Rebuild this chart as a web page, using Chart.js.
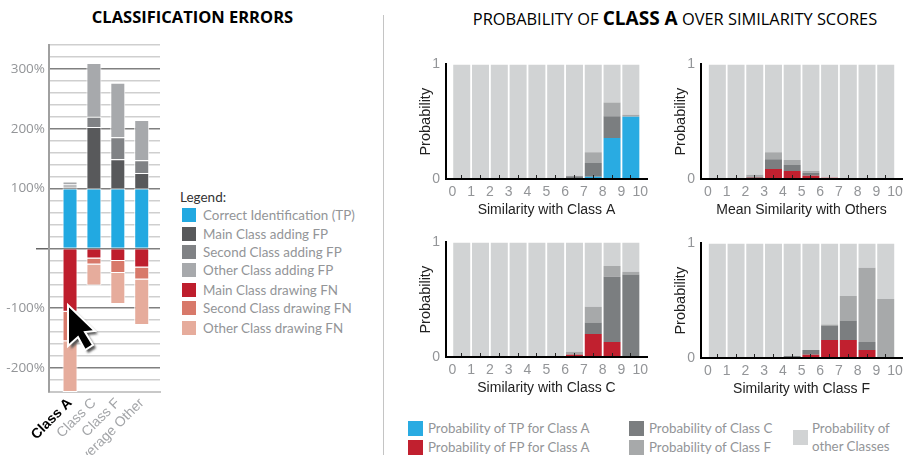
<!DOCTYPE html>
<html>
<head>
<meta charset="utf-8">
<title>Classification errors</title>
<script src="https://cdn.jsdelivr.net/npm/chart.js@4"></script>
<style>
    html, body { margin: 0; padding: 0; background: #fff; overflow: hidden; }
    body { position: relative; width: 903px; height: 455px; font-family: Lato, sans-serif; }
    canvas { position: absolute; }
    .title { position: absolute; color: #000; white-space: nowrap; text-align: center; }
    .divider { position: absolute; left: 383px; top: 15px; width: 1px; height: 440px; background: #c4c4c4; }
    .item { position: absolute; color: #939598; white-space: nowrap; font-size: 14px; line-height: 16px; }
    .swatch { position: absolute; }
    #cursor { position: absolute; left: 0; top: 0; }
</style>
</head>
<body>
<div class="title" style="left:74px;top:7px;width:237px;font:bold 16.5px 'Open Sans',sans-serif;line-height:20px">CLASSIFICATION ERRORS</div>
<div class="title" style="left:445px;top:7px;width:460px;font:16.4px 'Open Sans',sans-serif;line-height:22px">PROBABILITY OF <b style="font-size:19px">CLASS A</b> OVER SIMILARITY SCORES</div>
<div class="divider"></div>
<canvas id="errors" style="left:0;top:0"></canvas>
<canvas id="panelA" style="left:410px;top:50px"></canvas>
<canvas id="panelB" style="left:665px;top:50px"></canvas>
<canvas id="panelC" style="left:410px;top:228px"></canvas>
<canvas id="panelD" style="left:665px;top:229px"></canvas>
<div id="legends"></div>
<svg id="cursor" width="903" height="455">
    <defs><filter id="soft"><feGaussianBlur stdDeviation="1.2"/></filter></defs>
    <polygon points="71,308 71,349 81,340 88,353 96,348 88,335 98,334" fill="#555" filter="url(#soft)"/>
    <polygon points="68,305 68,346 78,337 85,350 93,345 85,332 95,331" fill="#000" stroke="#fff" stroke-width="2"/>
</svg>

<script>
// Left chart: classification errors
const errorCategories = ['Class A', 'Class C', 'Class F', 'Average Other'];
const correctTP = [100, 100, 100, 100];
const mainFP = [3, 103, 49, 26];
const secondFP = [4, 17, 37, 21.5];
const otherFP = [5, 90, 91, 67];
const mainFN = [-106, -17, -21, -32];
const secondFN = [-49, -10, -20, -20];
const otherFN = [-85, -35, -52, -76];

// Right panels: tick labels and stacked probabilities per score bin
const scoreTicks = ['0', '1', '2', '3', '4', '5', '6', '7', '8', '9', '10'];
const binCenters = [0.5, 1.5, 2.5, 3.5, 4.5, 5.5, 6.5, 7.5, 8.5, 9.5];

const aTP = [0, 0, 0, 0, 0, 0, 0, 0.02, 0.358, 0.543];
const aFP = [0, 0, 0, 0, 0, 0, 0, 0, 0, 0];
const aClassC = [0, 0, 0, 0, 0, 0, 0.023, 0.12, 0.19, 0];
const aClassF = [0, 0, 0, 0, 0.005, 0.005, 0.005, 0.093, 0.12, 0.017];
const aOther = [1, 1, 1, 1, 0.995, 0.995, 0.972, 0.767, 0.332, 0.44];

const bTP = [0, 0, 0, 0, 0, 0, 0, 0, 0, 0];
const bFP = [0, 0, 0.01, 0.088, 0.07, 0.028, 0.01, 0, 0, 0];
const bClassC = [0, 0, 0.01, 0.085, 0.052, 0.026, 0, 0, 0, 0];
const bClassF = [0, 0, 0.017, 0.06, 0.043, 0.016, 0, 0, 0, 0];
const bOther = [1, 1, 0.963, 0.767, 0.835, 0.93, 0.99, 1, 1, 1];

const cTP = [0, 0, 0, 0, 0, 0, 0, 0, 0, 0];
const cFP = [0, 0, 0, 0, 0, 0.008, 0.02, 0.2, 0.13, 0];
const cClassC = [0, 0, 0, 0, 0, 0, 0.005, 0.1, 0.57, 0.72];
const cClassF = [0, 0, 0, 0, 0.008, 0.002, 0.02, 0.138, 0.095, 0.024];
const cOther = [1, 1, 1, 1, 0.992, 0.99, 0.955, 0.562, 0.205, 0.256];

const dTP = [0, 0, 0, 0, 0, 0, 0, 0, 0, 0];
const dFP = [0, 0, 0.006, 0, 0, 0.028, 0.156, 0.156, 0.07, 0];
const dClassC = [0, 0.005, 0, 0.006, 0.017, 0.042, 0.128, 0.171, 0.07, 0];
const dClassF = [0, 0, 0, 0, 0, 0, 0.009, 0.213, 0.647, 0.514];
const dOther = [1, 0.995, 0.994, 0.994, 0.983, 0.93, 0.707, 0.46, 0.213, 0.486];

const errorColors = {
    tp: '#22a9e1', mainFP: '#58595b', secondFP: '#808285', otherFP: '#a7a9ac',
    mainFN: '#be1e2d', secondFN: '#d8796a', otherFN: '#e6ac9c'
};
const probColors = { tp: '#29abe2', fp: '#c1202f', classC: '#7b7e80', classF: '#a7a9aa', other: '#d1d3d4' };

const errorLegend = [
    ['Correct Identification (TP)', errorColors.tp, 215],
    ['Main Class adding FP', errorColors.mainFP, 234],
    ['Second Class adding FP', errorColors.secondFP, 252],
    ['Other Class adding FP', errorColors.otherFP, 270],
    ['Main Class drawing FN', errorColors.mainFN, 290],
    ['Second Class drawing FN', errorColors.secondFN, 308],
    ['Other Class drawing FN', errorColors.otherFN, 328]
];
const probLegend = [
    ['Probability of TP for Class A', probColors.tp, 408, 428],
    ['Probability of FP for Class A', probColors.fp, 408, 447],
    ['Probability of Class C', probColors.classC, 629, 428],
    ['Probability of Class F', probColors.classF, 629, 447]
];

Chart.defaults.animation = false;
Chart.defaults.responsive = false;

function sizeCanvas(id, w, h) {
    const canvas = document.getElementById(id);
    canvas.width = w;
    canvas.height = h;
    canvas.style.width = w + 'px';
    canvas.style.height = h + 'px';
    return canvas;
}

function errorSet(label, values, color) {
    return {
        label: label,
        data: values.map((v, i) => ({ x: i, y: v })),
        backgroundColor: color,
        borderColor: '#fff',
        borderWidth: 1,
        barThickness: 15,
        inflateAmount: 0,
        stack: 'all'
    };
}

new Chart(sizeCanvas('errors', 175, 455), {
    type: 'bar',
    data: {
        datasets: [
            errorSet('Correct Identification (TP)', correctTP, errorColors.tp),
            errorSet('Main Class adding FP', mainFP, errorColors.mainFP),
            errorSet('Second Class adding FP', secondFP, errorColors.secondFP),
            errorSet('Other Class adding FP', otherFP, errorColors.otherFP),
            errorSet('Main Class drawing FN', mainFN, errorColors.mainFN),
            errorSet('Second Class drawing FN', secondFN, errorColors.secondFN),
            errorSet('Other Class drawing FN', otherFN, errorColors.otherFN)
        ]
    },
    options: {
        layout: { padding: { top: 45, right: 15 } },
        plugins: { legend: { display: false }, tooltip: { enabled: false } },
        scales: {
            x: {
                type: 'linear',
                offset: false,
                min: -0.88,
                max: 3.765,
                afterFit: function(scale) {
                    scale.height = 63;
                    scale.paddingLeft = 0;
                    scale.paddingRight = 0;
                },
                grid: { display: false },
                border: { color: '#c8c8c8', width: 2 },
                ticks: {
                    stepSize: 1,
                    includeBounds: false,
                    minRotation: 45,
                    maxRotation: 45,
                    autoSkip: false,
                    padding: -5,
                    callback: function(value) { return errorCategories[value]; },
                    color: function(ctx) { return ctx.index === 0 ? '#000' : '#a3a5a8'; },
                    font: function(ctx) {
                        return { family: 'Liberation Sans', size: 14, weight: ctx.index === 0 ? 'bold' : 'normal' };
                    }
                }
            },
            y: {
                stacked: true,
                min: -240,
                max: 340,
                afterFit: function(scale) { scale.width = 49; },
                border: { color: '#a0a0a0', width: 2 },
                grid: {
                    tickLength: 13,
                    lineWidth: 1.5,
                    color: function(ctx) { return ctx.tick.value % 100 === 0 ? '#808080' : '#cfcfcf'; },
                    tickColor: function(ctx) { return ctx.tick.value === 0 ? '#666' : 'transparent'; }
                },
                ticks: {
                    stepSize: 20,
                    autoSkip: false,
                    padding: -9,
                    color: '#939598',
                    font: { family: 'Open Sans', size: 13.5 },
                    callback: function(value) {
                        return value !== 0 && value % 100 === 0 ? value + '%' : '';
                    }
                }
            }
        }
    }
});

function probSet(label, values, color) {
    return {
        label: label,
        data: values.map((v, i) => ({ x: binCenters[i], y: v })),
        backgroundColor: color,
        borderWidth: 0,
        barThickness: 17,
        inflateAmount: 0,
        stack: 'all'
    };
}

function drawPanel(id, size, plotTop, xMin, xMax, xTitle, series) {
    new Chart(sizeCanvas(id, size, 172), {
        type: 'bar',
        data: {
            datasets: [
                probSet('TP', series[0], probColors.tp),
                probSet('FP', series[1], probColors.fp),
                probSet('Class C', series[2], probColors.classC),
                probSet('Class F', series[3], probColors.classF),
                probSet('Other', series[4], probColors.other)
            ]
        },
        options: {
            layout: { padding: { top: plotTop, right: 1 } },
            plugins: { legend: { display: false }, tooltip: { enabled: false } },
            scales: {
                x: {
                    type: 'linear',
                    offset: false,
                    min: xMin,
                    max: xMax,
                    afterFit: function(scale) {
                        scale.height = 172 - plotTop - 117;
                        scale.paddingLeft = 0;
                        scale.paddingRight = 0;
                    },
                    border: { color: '#000', width: 2, z: 2 },
                    grid: { drawOnChartArea: false, tickLength: -4, tickColor: '#222', tickWidth: 1, z: 1 },
                    ticks: {
                        stepSize: 1,
                        includeBounds: false,
                        maxRotation: 0,
                        autoSkip: false,
                        padding: 9,
                        color: '#939598',
                        font: { family: 'Liberation Sans', size: 14 },
                        callback: function(value) { return scoreTicks[value]; }
                    },
                    title: {
                        display: true,
                        text: xTitle,
                        color: '#222',
                        font: { family: 'Liberation Sans', size: 14 },
                        padding: { top: 0, bottom: 3 }
                    }
                },
                y: {
                    stacked: true,
                    min: 0,
                    max: 1,
                    afterFit: function(scale) { scale.width = 36; },
                    border: { color: '#000', width: 2, z: 2 },
                    grid: { display: true, drawOnChartArea: false, drawTicks: false },
                    ticks: {
                        stepSize: 1,
                        padding: 6,
                        color: '#939598',
                        font: { family: 'Liberation Sans', size: 14 }
                    },
                    title: {
                        display: true,
                        text: 'Probability',
                        color: '#222',
                        font: { family: 'Liberation Sans', size: 14.5 },
                        padding: { top: 7, bottom: 0 }
                    }
                }
            }
        }
    });
}

drawPanel('panelA', 238, 12, -0.337, 10.36, 'Similarity with Class A', [aTP, aFP, aClassC, aClassF, aOther]);
drawPanel('panelB', 238, 12, -0.374, 10.37, 'Mean Similarity with Others', [bTP, bFP, bClassC, bClassF, bOther]);
drawPanel('panelC', 238, 12, -0.337, 10.36, 'Similarity with Class C', [cTP, cFP, cClassC, cClassF, cOther]);
drawPanel('panelD', 238, 12, -0.374, 10.37, 'Similarity with Class F', [dTP, dFP, dClassC, dClassF, dOther]);

// Legends are plain text next to colored squares
const legendBox = document.getElementById('legends');

function addText(text, x, centerY, color, size) {
    const el = document.createElement('div');
    el.className = 'item';
    el.textContent = text;
    el.style.left = x + 'px';
    el.style.top = (centerY - 8) + 'px';
    if (color) el.style.color = color;
    if (size) el.style.fontSize = size + 'px';
    legendBox.appendChild(el);
}

function addSwatch(x, centerY, side, color) {
    const el = document.createElement('div');
    el.className = 'swatch';
    el.style.left = x + 'px';
    el.style.top = (centerY - side / 2) + 'px';
    el.style.width = side + 'px';
    el.style.height = side + 'px';
    el.style.background = color;
    legendBox.appendChild(el);
}

addText('Legend:', 180, 197, '#333', 13.5);
errorLegend.forEach(function(row) {
    addSwatch(182, row[2], 14, row[1]);
    addText(row[0], 203, row[2], null, 13.4);
});
probLegend.forEach(function(row) {
    addSwatch(row[2], row[3], 15, row[1]);
    addText(row[0], row[2] + 20, row[3], null, 13.3);
});
addSwatch(793, 437, 15, probColors.other);
addText('Probability of', 812, 428, null, 13.3);
addText('other Classes', 812, 446, null, 13.3);
</script>
</body>
</html>
